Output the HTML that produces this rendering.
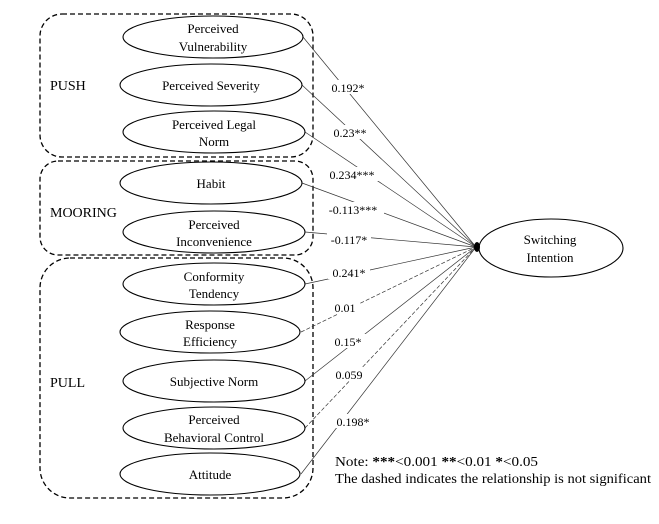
<!DOCTYPE html>
<html><head><style>
body{margin:0;background:#fff}
svg text{font-family:"Liberation Serif",serif;fill:#000}
</style></head><body>
<svg width="659" height="519" viewBox="0 0 659 519" xmlns="http://www.w3.org/2000/svg">
<g fill="none" stroke="#000" stroke-width="1.3" stroke-dasharray="5,3">
<rect x="40" y="14" width="273" height="143" rx="22"/>
<rect x="40" y="161" width="273" height="94" rx="18"/>
<rect x="40" y="258" width="273" height="240" rx="30"/>
</g>
<g stroke="#333" stroke-width="0.7">
<line x1="303" y1="37" x2="476" y2="247"/>
<line x1="302" y1="85" x2="476" y2="247"/>
<line x1="305" y1="132" x2="476" y2="247"/>
<line x1="302" y1="183" x2="476" y2="247"/>
<line x1="305" y1="232" x2="476" y2="247"/>
<line x1="305" y1="284" x2="476" y2="247"/>
<line x1="301" y1="332" x2="476" y2="247" stroke-dasharray="4,2"/>
<line x1="305" y1="381" x2="476" y2="247"/>
<line x1="305" y1="428" x2="476" y2="247" stroke-dasharray="4,2"/>
<line x1="301" y1="474" x2="476" y2="247"/>
</g>
<g font-size="12" text-anchor="middle">
<rect x="325" y="80" width="46" height="14" fill="#fff"/><text x="348" y="92">0.192*</text>
<rect x="328" y="125" width="44" height="14" fill="#fff"/><text x="350" y="137">0.23**</text>
<rect x="324" y="167" width="56" height="14" fill="#fff"/><text x="352" y="179">0.234***</text>
<rect x="322" y="202" width="62" height="14" fill="#fff"/><text x="353" y="214">-0.113***</text>
<rect x="327" y="232" width="44" height="14" fill="#fff"/><text x="349" y="244">-0.117*</text>
<rect x="328" y="265" width="42" height="14" fill="#fff"/><text x="349" y="277">0.241*</text>
<rect x="330" y="300" width="30" height="14" fill="#fff"/><text x="345" y="312">0.01</text>
<rect x="330" y="334" width="36" height="14" fill="#fff"/><text x="348" y="346">0.15*</text>
<rect x="330" y="367" width="38" height="14" fill="#fff"/><text x="349" y="379">0.059</text>
<rect x="330" y="414" width="46" height="14" fill="#fff"/><text x="353" y="426">0.198*</text>
</g>
<g fill="#fff" stroke="#000" stroke-width="1.1">
<ellipse cx="213" cy="37" rx="90" ry="21"/>
<ellipse cx="211" cy="85" rx="91" ry="21"/>
<ellipse cx="214" cy="132" rx="91" ry="21"/>
<ellipse cx="211" cy="183" rx="91" ry="21"/>
<ellipse cx="214" cy="232" rx="91" ry="21"/>
<ellipse cx="214" cy="284" rx="91" ry="21"/>
<ellipse cx="210" cy="332" rx="90" ry="21"/>
<ellipse cx="214" cy="381" rx="91" ry="21"/>
<ellipse cx="214" cy="428" rx="91" ry="21"/>
<ellipse cx="210" cy="474" rx="90" ry="21"/>
<ellipse cx="551" cy="248" rx="72" ry="29"/>
</g>
<ellipse cx="477" cy="247" rx="3" ry="5" fill="#000"/>
<g font-size="13" text-anchor="middle">
<text x="213" y="33">Perceived</text><text x="213" y="51">Vulnerability</text>
<text x="211" y="90">Perceived Severity</text>
<text x="214" y="129">Perceived Legal</text><text x="214" y="146">Norm</text>
<text x="211" y="188">Habit</text>
<text x="214" y="229">Perceived</text><text x="214" y="246">Inconvenience</text>
<text x="214" y="281">Conformity</text><text x="214" y="298">Tendency</text>
<text x="210" y="329">Response</text><text x="210" y="346">Efficiency</text>
<text x="214" y="386">Subjective Norm</text>
<text x="214" y="424">Perceived</text><text x="214" y="442">Behavioral Control</text>
<text x="210" y="479">Attitude</text>
<text x="550" y="244">Switching</text><text x="550" y="262">Intention</text>
</g>
<g font-size="14">
<text x="50" y="90">PUSH</text>
<text x="50" y="217">MOORING</text>
<text x="50" y="387">PULL</text>
</g>
<g font-size="13.5">
<text x="335" y="466" textLength="203" lengthAdjust="spacingAndGlyphs">Note:  <tspan font-weight="bold">***</tspan>&lt;0.001 <tspan font-weight="bold">**</tspan>&lt;0.01 <tspan font-weight="bold">*</tspan>&lt;0.05</text>
<text x="335" y="483" textLength="316" lengthAdjust="spacingAndGlyphs">The dashed indicates the relationship is not significant</text>
</g>
</svg>
</body></html>
